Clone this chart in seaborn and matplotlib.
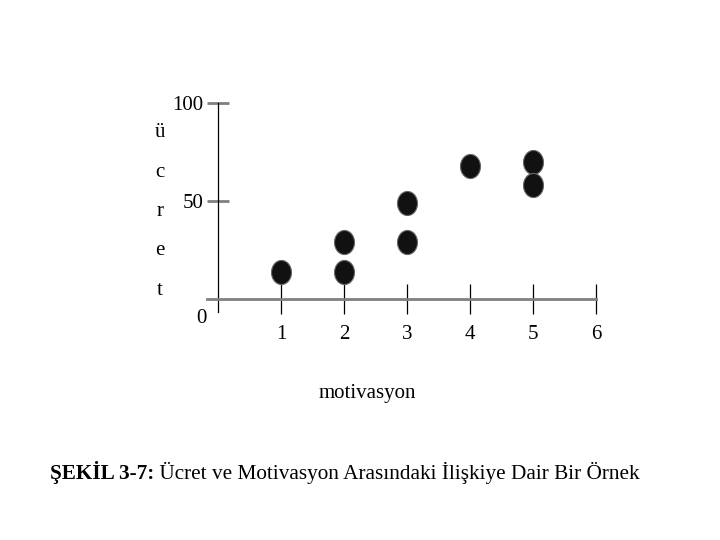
import numpy as np
import pandas as pd
import matplotlib
matplotlib.use('Agg')
import matplotlib.pyplot as plt
import seaborn as sns
from matplotlib.path import Path
from matplotlib.markers import MarkerStyle

# values
motivasyon = [1, 2, 2, 3, 3, 4, 5, 5]
ucret = [14, 14, 29, 29, 49, 68, 70, 58]
x_ticks = [1, 2, 3, 4, 5, 6]
y_ticks = [50, 100]
y_label = "ücret"
x_label = "motivasyon"
title_bold = "ŞEKİL 3-7:"
title_rest = " Ücret ve Motivasyon Arasındaki İlişkiye Dair Bir Örnek"

df = pd.DataFrame({'motivasyon': motivasyon, 'ucret': ucret})

sns.set_style('white')
plt.rcParams['font.family'] = ['Liberation Serif', 'DejaVu Serif']
plt.rcParams['text.color'] = 'black'
plt.rcParams['axes.labelcolor'] = 'black'
plt.rcParams['xtick.labelcolor'] = 'black'
plt.rcParams['ytick.labelcolor'] = 'black'

fig = plt.figure(figsize=(7.2, 5.4), dpi=100)
ax = fig.add_axes([0.287, 0.4222, 0.5407, 0.387])

# dots in the scan are a bit taller than wide
t = np.linspace(0, 2 * np.pi, 60)
ell = Path(np.column_stack([0.83 * np.cos(t), np.sin(t)]), closed=True)

sns.scatterplot(data=df, x='motivasyon', y='ucret', marker=MarkerStyle(ell),
                s=300, color='#111111', edgecolor='#666666', linewidth=0.8,
                ax=ax, zorder=3, clip_on=False)

ax.set_xlim(-0.18, 6.0)
ax.set_ylim(-6.6, 100)

# axes drawn like the textbook figure
ax.spines['top'].set_visible(False)
ax.spines['right'].set_visible(False)
ax.spines['bottom'].set_position(('data', 0))
ax.spines['bottom'].set_color('#808080')
ax.spines['bottom'].set_linewidth(2)
ax.spines['left'].set_position(('data', 0))
ax.spines['left'].set_color('black')
ax.spines['left'].set_linewidth(0.9)

ax.set_xticks(x_ticks)
ax.set_yticks(y_ticks)
ax.tick_params(axis='x', bottom=True, direction='inout', length=21, width=0.9,
               color='black', pad=8, labelsize=15)
ax.tick_params(axis='y', left=True, direction='inout', length=16.5, width=2,
               color='#808080', pad=2, labelsize=15)

ax.set_ylabel('')
ax.set_xlabel(x_label, fontsize=15)
ax.xaxis.set_label_coords(0.412, -0.344)

# "0" sits below the axis line
ax.text(-0.27, -9.7, '0', ha='center', va='center', fontsize=15, clip_on=False)

# vertical y label, one letter per row
for i, ch in enumerate(y_label):
    fig.text(160 / 720, 1 - (133 + 39.3 * i) / 540, ch, ha='center',
             va='center', fontsize=15)

# caption: bold figure number followed by normal text
t1 = fig.text(50 / 720, 1 - 473 / 540, title_bold, fontweight='bold',
              fontsize=15.3, ha='left', va='center')
ax.annotate(title_rest, xy=(1, 0), xycoords=t1, ha='left', va='bottom',
            fontsize=15.3, annotation_clip=False)

fig.savefig('out.png', dpi=100)
